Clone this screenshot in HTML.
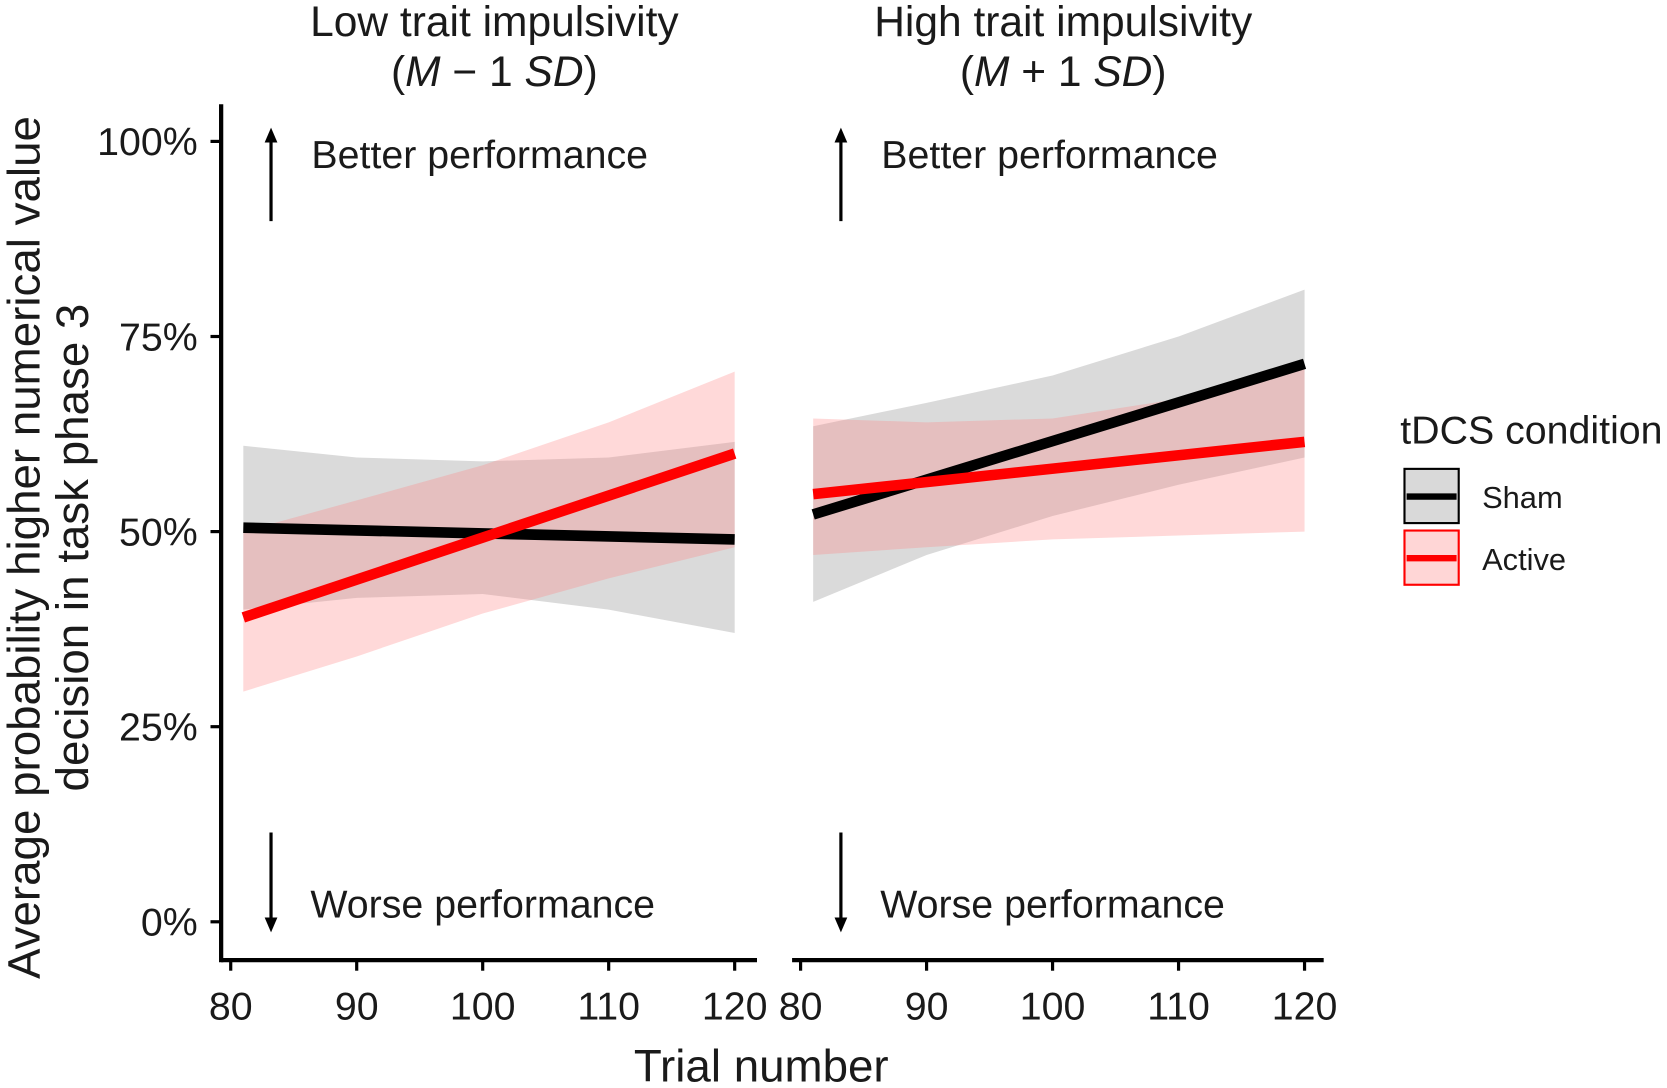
<!DOCTYPE html>
<html><head><meta charset="utf-8"><style>
body{margin:0;background:#fff}
svg{display:block;font-family:"Liberation Sans",Arial,sans-serif}
</style></head><body>
<svg id="chart" width="1667" height="1088" viewBox="0 0 1667 1088">
<g id="root" transform="scale(1.0632)"></g>
</svg>
<script>
const xTicks=[80,90,100,110,120];
const yTicks=[0,0.25,0.5,0.75,1];
const yTickLabels=["0%","25%","50%","75%","100%"];
const ribbonX=[81,90,100,110,120];
// Low impulsivity
const lowShamLine=[0.505,0.49];
const lowShamLo=[0.40,0.415,0.42,0.40,0.37];
const lowShamHi=[0.61,0.595,0.59,0.595,0.615];
const lowActLine=[0.39,0.60];
const lowActLo=[0.295,0.34,0.395,0.44,0.48];
const lowActHi=[0.50,0.54,0.585,0.64,0.705];
// High impulsivity
const highShamLine=[0.522,0.715];
const highShamLo=[0.41,0.47,0.52,0.56,0.595];
const highShamHi=[0.635,0.665,0.70,0.75,0.81];
const highActLine=[0.548,0.615];
const highActLo=[0.47,0.48,0.49,0.495,0.50];
const highActHi=[0.645,0.64,0.645,0.67,0.71];
const lineX=[81,120];

const NS="http://www.w3.org/2000/svg";
const root=document.getElementById('root');
function el(t,a,p){const e=document.createElementNS(NS,t);for(const k in a)e.setAttribute(k,a[k]);(p||root).appendChild(e);return e;}
const yS=v=>867-v*734;
const panels=[{x0:217,title:["Low trait impulsivity","−"],name:"low",axisL:208,axisR:712,
  sh:[lowShamLine,lowShamLo,lowShamHi],ac:[lowActLine,lowActLo,lowActHi]},
 {x0:753,title:["High trait impulsivity","+"],name:"high",axisL:745,axisR:1245,
  sh:[highShamLine,highShamLo,highShamHi],ac:[highActLine,highActLo,highActHi]}];
panels.forEach(p=>{
  const xS=v=>p.x0+(v-80)*11.85;
  const g=el('g',{});
  
  
  function ribbon(lo,hi,fill,op,nm){
    let d='M'+ribbonX.map((x,i)=>xS(x)+','+yS(hi[i])).join('L');
    d+='L'+ribbonX.slice().reverse().map((x,i)=>xS(x)+','+yS(lo[lo.length-1-i])).join('L')+'Z';
    const r=el('path',{d:d,fill:fill,'fill-opacity':op},g);
    
    
  }
  ribbon(p.sh[1],p.sh[2],'#bcbcbc',0.55,'sham-ribbon');
  ribbon(p.ac[1],p.ac[2],'#ff8080',0.3,'active-ribbon');
  function line(v,c,nm){
    const l=el('line',{x1:xS(lineX[0]),y1:yS(v[0]),x2:xS(lineX[1]),y2:yS(v[1]),stroke:c,'stroke-width':10},g);
    
    
  }
  line(p.sh[0],'#000','sham-line');
  line(p.ac[0],'#ff0000','active-line');
  el('line',{x1:p.axisL,y1:903,x2:p.axisR,y2:903,stroke:'#000','stroke-width':4},g);
  xTicks.forEach(t=>{
    el('line',{x1:xS(t),y1:903,x2:xS(t),y2:913,stroke:'#000','stroke-width':3},g);
    const tx=el('text',{x:xS(t),y:959,'font-size':37,'text-anchor':'middle',fill:'#1a1a1a'},g);
    tx.textContent=t;
    
    
  });
  const ax=xS(83.2);
  el('line',{x1:ax,y1:208,x2:ax,y2:132,stroke:'#000','stroke-width':3},g);
  el('path',{d:`M${ax-6},134L${ax},120L${ax+6},134Z`,fill:'#000'},g);
  el('line',{x1:ax,y1:783,x2:ax,y2:865,stroke:'#000','stroke-width':3},g);
  el('path',{d:`M${ax-6},863L${ax},877L${ax+6},863Z`,fill:'#000'},g);
  const bt=el('text',{x:ax+38,y:158,'font-size':37,fill:'#1a1a1a'},g);bt.textContent='Better performance';
  
  const wt=el('text',{x:ax+37,y:863,'font-size':37,fill:'#1a1a1a'},g);wt.textContent='Worse performance';
  
  const cx=(p.axisL+p.axisR)/2+5;
  const t1=el('text',{x:cx,y:34,'font-size':40,'text-anchor':'middle',fill:'#1a1a1a'},g);t1.textContent=p.title[0];
  
  const t2=el('text',{x:cx,y:81,'font-size':40,'text-anchor':'middle',fill:'#1a1a1a'},g);
  t2.innerHTML='(<tspan font-style="italic">M</tspan> '+p.title[1]+' 1 <tspan font-style="italic">SD</tspan>)';
  
});
el('line',{x1:208,y1:98,x2:208,y2:905,stroke:'#000','stroke-width':4});
yTicks.forEach((v,i)=>{
  el('line',{x1:198,y1:yS(v),x2:208,y2:yS(v),stroke:'#000','stroke-width':3});
  const t=el('text',{x:186,y:yS(v)+13,'font-size':37,'text-anchor':'end',fill:'#1a1a1a'});
  t.textContent=yTickLabels[i];
  
  
});
const yt=el('text',{transform:'translate(37,515) rotate(-90)','font-size':43,'text-anchor':'middle',fill:'#1a1a1a'});
yt.textContent='Average probability higher numerical value';

const yt2=el('text',{transform:'translate(83,515) rotate(-90)','font-size':43,'text-anchor':'middle',fill:'#1a1a1a'});
yt2.textContent='decision in task phase 3';

const xt=el('text',{x:716,y:1017,'font-size':43,'text-anchor':'middle',fill:'#1a1a1a'});
xt.textContent='Trial number';

const lg=el('g',{});

const lt=el('text',{x:1317,y:417,'font-size':37,fill:'#1a1a1a'},lg);lt.textContent='tDCS condition';
[['Sham','#000','#d9d9d9',441],['Active','#ff0000','#ffd6d6',499]].forEach(a=>{
  const e=el('g',{},lg);
  
  
  el('rect',{x:1321,y:a[3],width:51,height:51,fill:a[2],stroke:a[1],'stroke-width':2},e);
  el('line',{x1:1323,y1:a[3]+26,x2:1370,y2:a[3]+26,stroke:a[1],'stroke-width':6},e);
  const t=el('text',{x:1394,y:a[3]+37,'font-size':29,fill:'#1a1a1a'},e);t.textContent=a[0];
});
</script>
</body></html>
